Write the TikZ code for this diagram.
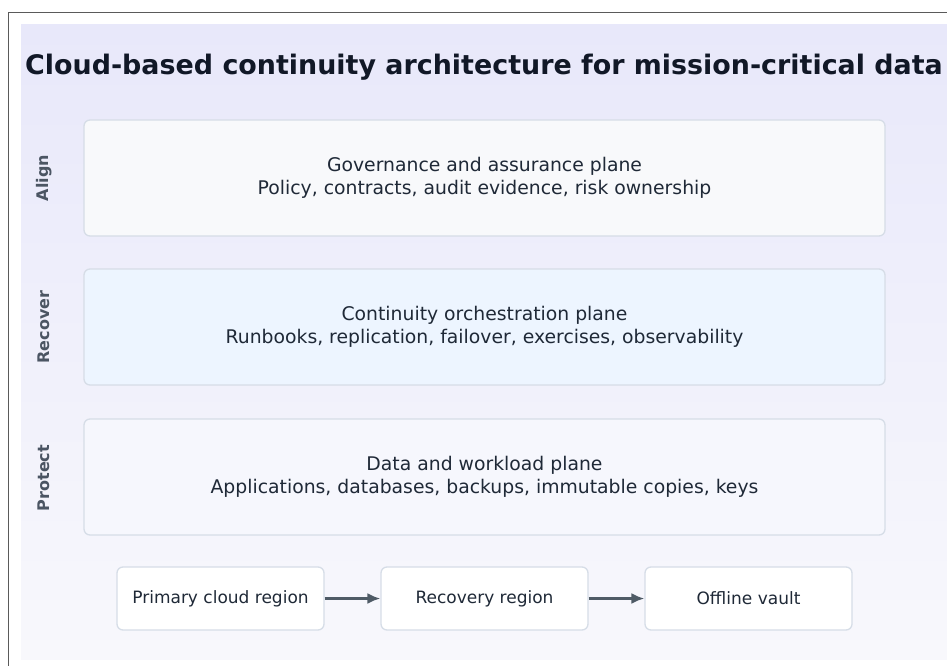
\documentclass[tikz,border=0pt]{standalone}
\usepackage{fontspec}
\setmainfont{DejaVu Sans}
\usetikzlibrary{arrows.meta}
\definecolor{frameline}{HTML}{5A5A5A}
\definecolor{bgtop}{HTML}{E8E8FA}
\definecolor{bgbottom}{HTML}{F8F8FC}
\definecolor{titleink}{HTML}{111827}
\definecolor{bodyink}{HTML}{1F2937}
\definecolor{sideink}{HTML}{4B5563}
\definecolor{boxedge}{HTML}{D6DDE7}
\definecolor{alignfill}{HTML}{F8F9FB}
\definecolor{recoverfill}{HTML}{EDF5FF}
\definecolor{protectfill}{HTML}{F6F7FD}
\definecolor{flowink}{HTML}{4F5B66}
\tikzset{
  plane/.style={draw=boxedge, line width=1.3pt, rounded corners=6pt,
    minimum width=801pt, minimum height=116pt, inner sep=0pt, align=center,
    text=bodyink, font=\fontsize{18.8}{22.5}\selectfont},
  sidelabel/.style={rotate=90, text=sideink, inner sep=0pt,
    font=\fontsize{16}{19}\selectfont\bfseries},
  sitebox/.style={draw=boxedge, line width=1.3pt, rounded corners=6pt, fill=white,
    minimum width=207pt, minimum height=63pt, inner sep=0pt,
    text=bodyink, font=\fontsize{17}{20}\selectfont},
  flow/.style={draw=flowink, line width=2.3pt, -{Latex[length=13pt,width=11pt]}},
}
\begin{document}
\begin{tikzpicture}[x=1pt,y=-1pt]
  \useasboundingbox (0,0) rectangle (947,666);
  \clip (0,0) rectangle (947,666);
  % outer frame and shaded panel
  \fill[white] (0,0) rectangle (947,666);
  \shade[top color=bgtop, bottom color=bgbottom] (21,25) rectangle (960,659);
  \draw[frameline, line width=1.2pt] (8.5,680) -- (8.5,12.5) -- (960,12.5);

  % title
  \node[anchor=base west, inner sep=0pt, text=titleink,
        font=\fontsize{26.9}{32}\selectfont\bfseries] (title) at (25,75)
    {Cloud-based continuity architecture for mission-critical data};

  % three planes
  \node[plane, fill=alignfill] (align) at (484.5,178)
    {Governance and assurance plane\\Policy, contracts, audit evidence, risk ownership};
  \node[plane, fill=recoverfill] (recover) at (484.5,327)
    {Continuity orchestration plane\\Runbooks, replication, failover, exercises, observability};
  \node[plane, fill=protectfill] (protect) at (484.5,477)
    {Data and workload plane\\Applications, databases, backups, immutable copies, keys};

  % side labels
  \node[sidelabel] (alignlbl) at (44,178) {Align};
  \node[sidelabel] (recoverlbl) at (44,327) {Recover};
  \node[sidelabel] (protectlbl) at (44,478) {Protect};

  % sites
  \node[sitebox] (primary) at (220.5,598.5) {Primary cloud region};
  \node[sitebox] (recovery) at (484.5,598.5) {Recovery region};
  \node[sitebox] (vault) at (748.5,598.5) {Offline vault};

  \draw[flow] (primary) -- (recovery);
  \draw[flow] (recovery) -- (vault);
\end{tikzpicture}
\end{document}
